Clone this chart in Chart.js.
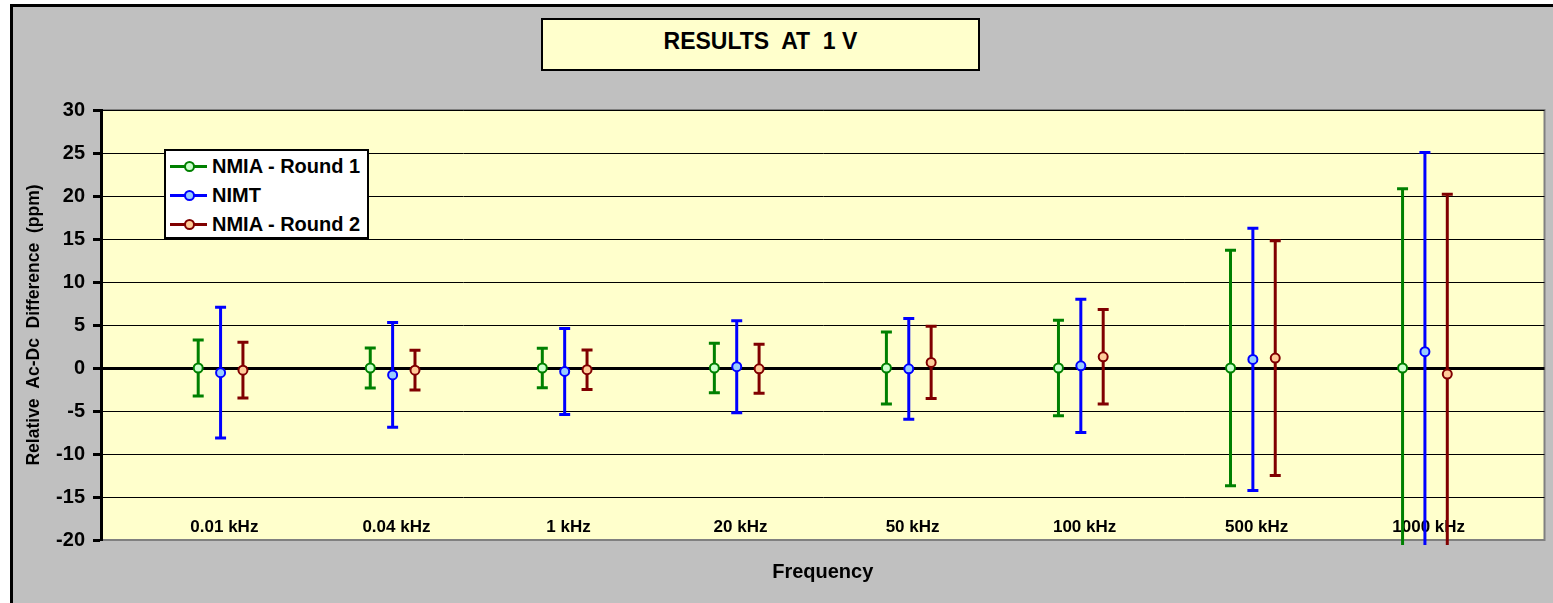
<!DOCTYPE html>
<html>
<head>
<meta charset="utf-8">
<title>Results at 1 V</title>
<script src="https://cdn.jsdelivr.net/npm/chart.js@4.4.1/dist/chart.umd.min.js"></script>
<style>
  html, body { margin: 0; padding: 0; background: #fff; }
  #wrap { position: relative; width: 1553px; height: 603px; overflow: hidden; }
  #titleBox {
    position: absolute; left: 541px; top: 18px; width: 439px; height: 53px;
    box-sizing: border-box; border: 2px solid #000; background: #ffffcc;
    font: bold 23px "Liberation Sans", Arial, sans-serif; color: #000;
    text-align: center; line-height: 42px; white-space: pre;
  }
  #legendBox {
    position: absolute; left: 164px; top: 149px; width: 205px; height: 90px;
    box-sizing: border-box; border: 2px solid #000; background: #fff;
    padding-top: 1px;
    font: bold 20px "Liberation Sans", Arial, sans-serif; color: #000;
  }
  .item { position: relative; height: 29px; line-height: 29px; white-space: pre; }
  .item .ln { position: absolute; left: 4px; top: 13px; width: 37px; height: 3px; }
  .item .dot { position: absolute; left: 18px; top: 9px; width: 7px; height: 7px; border-radius: 50%; border: 2px solid; }
  .item .txt { position: absolute; left: 46px; top: 0; }
</style>
</head>
<body>
<div id="wrap">
  <canvas id="myChart" width="1553" height="603"></canvas>
  <div id="titleBox">RESULTS  AT  1 V</div>
  <div id="legendBox"></div>
</div>
<script>
// categories (frequency points)
const freqLabels = ['0.01 kHz', '0.04 kHz', '1 kHz', '20 kHz', '50 kHz', '100 kHz', '500 kHz', '1000 kHz'];

// series values and uncertainties (ppm)
const nmia1Values = [0, 0, 0, 0, 0, 0, 0, 0];
const nmia1Errors = [3.25, 2.33, 2.3, 2.87, 4.2, 5.55, 13.7, 20.85];

const nimtValues = [-0.55, -0.8, -0.4, 0.15, -0.1, 0.25, 1.0, 1.9];
const nimtErrors = [7.6, 6.1, 5.0, 5.35, 5.85, 7.75, 15.25, 23.15];

const nmia2Values = [-0.25, -0.25, -0.2, -0.1, 0.65, 1.3, 1.15, -0.7];
const nmia2Errors = [3.25, 2.3, 2.3, 2.85, 4.2, 5.5, 13.65, 20.9];

// y axis range
const yMin = -20;
const yMax = 30;
const yStep = 5;

const font = '"Liberation Sans", Arial, sans-serif';

// series look: name, values, errors, line colour, marker fill, x shift inside a category
const series = [
  { name: 'NMIA - Round 1', values: nmia1Values, errors: nmia1Errors, color: '#008000', fill: '#ccffcc', shift: -0.13 },
  { name: 'NIMT',           values: nimtValues,  errors: nimtErrors,  color: '#0000ff', fill: '#99ccff', shift: 0 },
  { name: 'NMIA - Round 2', values: nmia2Values, errors: nmia2Errors, color: '#800000', fill: '#ffcc99', shift: 0.13 }
];

// points first so they sit on top of the error bars
const datasets = [];
series.forEach(function (s) {
  datasets.push({
    label: s.name,
    showLine: false,
    data: s.values.map((v, i) => ({ x: i + 1 + s.shift, y: v })),
    pointRadius: 4.5,
    pointHoverRadius: 4.5,
    pointBorderWidth: 2,
    pointBackgroundColor: s.fill,
    pointBorderColor: s.color,
    order: 0
  });
});
series.forEach(function (s) {
  // one line dataset per series, gaps between bars, caps drawn as 'line' points
  let bars = [];
  s.values.forEach(function (v, i) {
    const x = i + 1 + s.shift;
    bars.push({ x: x, y: v - s.errors[i] });
    bars.push({ x: x, y: v + s.errors[i] });
    bars.push({ x: x, y: null });
  });
  datasets.push({
    label: s.name + ' error',
    data: bars,
    spanGaps: false,
    borderColor: s.color,
    borderWidth: 3,
    pointStyle: 'line',
    pointRadius: 5.5,
    pointHoverRadius: 5.5,
    pointBorderWidth: 3,
    pointBorderColor: s.color,
    clip: { left: 0, top: 0, right: 0, bottom: 5 },
    order: 1
  });
});

// gray frame and yellow plot area
const frame = {
  id: 'frame',
  beforeDraw(chart) {
    const ctx = chart.ctx;
    const a = chart.chartArea;
    ctx.save();
    ctx.fillStyle = '#ffffff';
    ctx.fillRect(0, 0, chart.width, chart.height);
    ctx.fillStyle = '#c0c0c0';
    ctx.fillRect(10, 4, chart.width - 10, chart.height - 4);
    ctx.fillStyle = '#000000';
    ctx.fillRect(10, 4, chart.width - 10, 3);
    ctx.fillRect(10, 4, 3, chart.height - 4);
    ctx.fillStyle = '#ffffcc';
    ctx.fillRect(a.left, a.top, a.right - a.left, a.bottom - a.top);
    ctx.strokeStyle = '#808080';
    ctx.lineWidth = 2;
    ctx.strokeRect(a.left, a.top, a.right - a.left, a.bottom - a.top);
    ctx.restore();
  }
};

const config = {
  type: 'line',
  data: { datasets: datasets },
  options: {
    responsive: false,
    animation: false,
    layout: { padding: { left: 0, top: 110, right: 2, bottom: 0 } },
    plugins: {
      legend: { display: false },
      tooltip: { enabled: false }
    },
    scales: {
      x: {
        type: 'linear',
        min: 0.305,
        max: 8.695,
        afterBuildTicks(scale) {
          // labels sit a hair right of the category centre, like the original
          scale.ticks = freqLabels.map((l, i) => ({ value: i + 1.022 }));
        },
        afterFit(scale) { scale.height = 63; },
        grid: { display: false, drawTicks: false },
        border: { display: true, color: '#808080', width: 2 },
        ticks: {
          // mirrored labels sit inside the plot, above the axis line
          mirror: true,
          autoSkip: false,
          maxRotation: 0,
          padding: 2,
          color: '#000',
          font: { family: font, size: 17, weight: 'bold' },
          callback: (value, index) => freqLabels[index]
        },
        title: {
          display: true,
          text: 'Frequency',
          color: '#000',
          font: { family: font, size: 20, weight: 'bold' },
          padding: { top: 0, bottom: 19 }
        }
      },
      y: {
        min: yMin,
        max: yMax,
        afterFit(scale) { scale.width = 101; },
        grid: {
          color: '#000',
          lineWidth: ctx => (ctx.tick && ctx.tick.value === 0 ? 3 : 1),
          tickLength: 8,
          tickWidth: 3,
          tickColor: '#000'
        },
        border: { display: true, color: '#000', width: 3 },
        ticks: {
          stepSize: yStep,
          padding: 8,
          color: '#000',
          font: { family: font, size: 20, weight: 'bold' }
        },
        title: {
          display: true,
          text: 'Relative  Ac-Dc  Difference  (ppm)',
          color: '#000',
          font: { family: font, size: 17.5, weight: 'bold' },
          padding: { top: 24, bottom: 0 }
        }
      }
    }
  },
  plugins: [frame]
};

const myChart = new Chart(document.getElementById('myChart'), config);

// html legend built from the series list
const legendBox = document.getElementById('legendBox');
series.forEach(function (s) {
  const row = document.createElement('div');
  row.className = 'item';
  row.innerHTML = '<span class="ln" style="background:' + s.color + '"></span>' +
    '<span class="dot" style="background:' + s.fill + ';border-color:' + s.color + '"></span>' +
    '<span class="txt">' + s.name + '</span>';
  legendBox.appendChild(row);
});
</script>
</body>
</html>
